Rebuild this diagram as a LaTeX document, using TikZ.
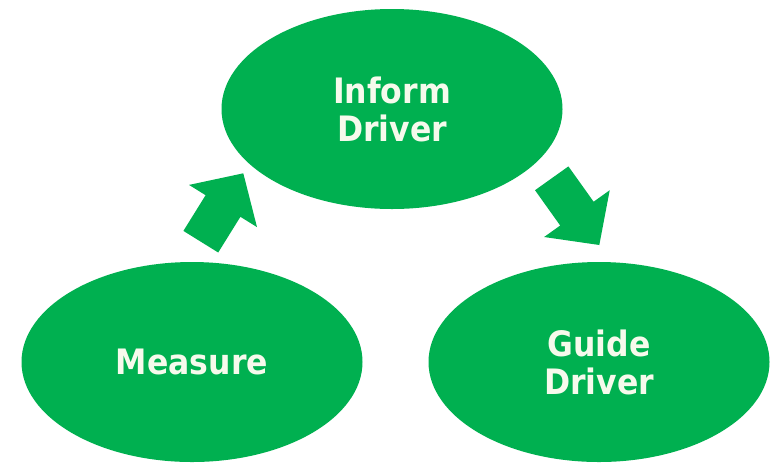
\documentclass[tikz,border=0pt]{standalone}
\usepackage{fontspec}
\newfontfamily\lblfont{DejaVu Sans Condensed}
\usetikzlibrary{shapes.geometric}
\definecolor{offgreen}{RGB}{0,176,80}
\definecolor{labelwhite}{RGB}{246,250,236}
\tikzset{
  bubble/.style={ellipse, fill=offgreen, draw=none, inner sep=0pt,
    minimum width=341pt, minimum height=200pt, text=labelwhite,
    font=\lblfont\bfseries\fontsize{35}{38}\selectfont, align=center},
  blockarrow/.style={fill=offgreen, draw=none}
}
\begin{document}
\begin{tikzpicture}[x=1pt,y=-1pt]
\useasboundingbox (0,0) rectangle (775,467);
\node[bubble] (inform) at (392,109) {Inform\\Driver};
\node[bubble] (measure) at (192,362) {Measure};
\node[bubble] (guide) at (599,362) {Guide\\Driver};
% block arrow from Measure towards Inform Driver
\fill[blockarrow] (218.2,252.5) -- (240.4,216.8) -- (257.0,227.1) -- (243.3,173.3)
  -- (189.0,184.9) -- (205.6,195.2) -- (183.4,230.9) -- cycle;
% block arrow from Inform Driver towards Guide Driver
\fill[blockarrow] (568.4,166.4) -- (593.6,201.7) -- (609.7,190.2) -- (599.3,245.0)
  -- (544.1,237.0) -- (560.2,225.5) -- (535.0,190.2) -- cycle;
\end{tikzpicture}
\end{document}
